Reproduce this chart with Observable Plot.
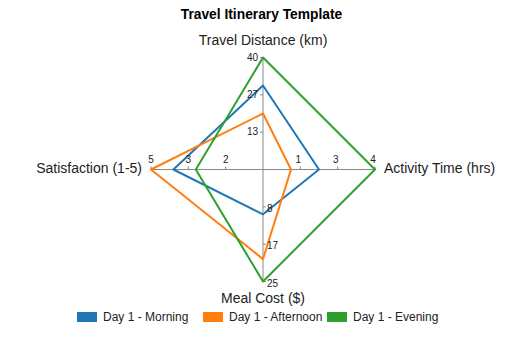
<!DOCTYPE html>
<html>
<head>
<meta charset="utf-8">
<script src="https://cdn.jsdelivr.net/npm/d3@7"></script>
<script src="https://cdn.jsdelivr.net/npm/@observablehq/plot@0.6"></script>
<style>
  html, body { margin: 0; padding: 0; background: #fff; }
  #wrap { position: relative; width: 521px; height: 339px; font-family: "Liberation Sans", Arial, sans-serif; }
  #title { position: absolute; left: 0; width: 521px; top: 7px; text-align: center; font-weight: bold; font-size: 13.8px; color: #000; padding-left: 2px; box-sizing: border-box; }
  #legend { position: absolute; left: 0; width: 521px; top: 310px; height: 16px; font-size: 12px; color: #222; }
  .item { position: absolute; top: 0; display: flex; align-items: center; white-space: nowrap; }
  .sw { width: 20px; height: 10px; margin-right: 6px; }
  #chart { position: absolute; left: 0; top: 0; }
</style>
</head>
<body>
<div id="wrap">
  <div id="chart"></div>
  <div id="title"></div>
  <div id="legend"></div>
</div>
<script>
const chartTitle = "Travel Itinerary Template";
const axisNames = ["Travel Distance (km)", "Activity Time (hrs)", "Meal Cost ($)", "Satisfaction (1-5)"];
const axisMax = [40, 4, 25, 5];
const seriesNames = ["Day 1 - Morning", "Day 1 - Afternoon", "Day 1 - Evening"];
const morning = [30, 2, 10, 4];
const afternoon = [20, 1, 20, 5];
const evening = [40, 4, 25, 3];
const tickLabels = [["13", "27", "40"], ["1", "3", "4"], ["8", "17", "25"], ["2", "3", "5"]];
const colors = ["#1f77b4", "#ff7f0e", "#2ca02c"];

const seriesValues = [morning, afternoon, evening];
const dir = axisNames.map((_, i) => ({ux: Math.round(Math.sin(i * Math.PI / 2)), uy: Math.round(Math.cos(i * Math.PI / 2))}));

const points = [];
seriesValues.forEach((vals, s) => {
  vals.forEach((v, i) => {
    const f = v / axisMax[i];
    points.push({series: seriesNames[s], x: f * dir[i].ux, y: f * dir[i].uy});
  });
});

const axisLines = dir.map(d => ({x1: 0, y1: 0, x2: d.ux, y2: d.uy}));

const ticks = [];
tickLabels.forEach((labs, i) => {
  labs.forEach((lab, k) => {
    const f = (k + 1) / 3;
    ticks.push({axis: i, label: lab, x: f * dir[i].ux, y: f * dir[i].uy});
  });
});

const R = 112;
const tl = 3 / R;
const tickMarks = ticks.map(t => {
  if (t.axis === 0) return {x1: t.x - tl, y1: t.y, x2: t.x, y2: t.y};
  if (t.axis === 2) return {x1: t.x, y1: t.y, x2: t.x + tl, y2: t.y};
  return {x1: t.x, y1: t.y, x2: t.x, y2: t.y + tl};
});

const titles = axisNames.map((name, i) => ({name, x: dir[i].ux, y: dir[i].uy, i}));

const plot = Plot.plot({
  width: 521,
  height: 339,
  margin: 0,
  x: {domain: [-1, 1], range: [150.5, 374.5], axis: null},
  y: {domain: [-1, 1], range: [281, 57], axis: null},
  color: {domain: seriesNames, range: colors},
  style: {fontFamily: "'Liberation Sans', Arial, sans-serif", background: "#fff"},
  marks: [
    Plot.link(axisLines, {x1: "x1", y1: "y1", x2: "x2", y2: "y2", stroke: "#888", strokeWidth: 1}),
    Plot.link(tickMarks, {x1: "x1", y1: "y1", x2: "x2", y2: "y2", stroke: "#888", strokeWidth: 1}),
    Plot.line(points, {x: "x", y: "y", z: "series", stroke: "series", curve: "linear-closed", strokeWidth: 2}),
    Plot.text(ticks.filter(t => t.axis === 0), {x: "x", y: "y", text: "label", textAnchor: "end", dx: -5, fontSize: 10, fill: "#222"}),
    Plot.text(ticks.filter(t => t.axis === 1), {x: "x", y: "y", text: "label", dx: -2, dy: -10, fontSize: 10, fill: "#222"}),
    Plot.text(ticks.filter(t => t.axis === 2), {x: "x", y: "y", text: "label", textAnchor: "start", dx: 4, dy: 2, fontSize: 10, fill: "#222"}),
    Plot.text(ticks.filter(t => t.axis === 3), {x: "x", y: "y", text: "label", dy: -10, fontSize: 10, fill: "#222"}),
    Plot.text(titles.filter(t => t.i === 0), {x: "x", y: "y", text: "name", dy: -17, fontSize: 14, fill: "#222"}),
    Plot.text(titles.filter(t => t.i === 1), {x: "x", y: "y", text: "name", textAnchor: "start", dx: 9, dy: -1, fontSize: 14, fill: "#222"}),
    Plot.text(titles.filter(t => t.i === 2), {x: "x", y: "y", text: "name", dy: 17, fontSize: 14, fill: "#222"}),
    Plot.text(titles.filter(t => t.i === 3), {x: "x", y: "y", text: "name", textAnchor: "end", dx: -9, dy: -1, fontSize: 14, fill: "#222"})
  ]
});
document.getElementById("chart").appendChild(plot);

document.getElementById("title").textContent = chartTitle;
const legend = document.getElementById("legend");
const legendLeft = [77, 203, 327];
seriesNames.forEach((name, i) => {
  const item = document.createElement("div");
  item.className = "item";
  item.style.left = legendLeft[i] + "px";
  const sw = document.createElement("div");
  sw.className = "sw";
  sw.style.background = colors[i];
  const lab = document.createElement("span");
  lab.textContent = name;
  item.appendChild(sw);
  item.appendChild(lab);
  legend.appendChild(item);
});
</script>
</body>
</html>
